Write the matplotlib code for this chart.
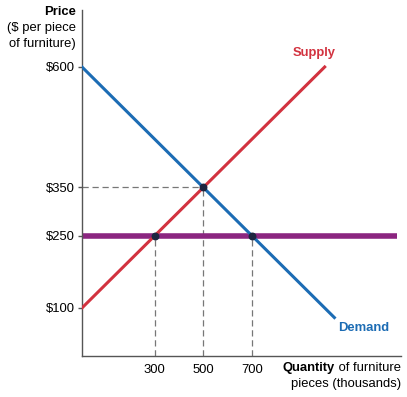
import numpy as np
import matplotlib.pyplot as plt

plt.rcParams['font.family'] = ['Liberation Sans', 'DejaVu Sans']

# supply and demand lines (quantity in thousands, price in $)
supply_q = [0, 1000]
supply_p = [100, 600]
demand_q = [0, 1040]
demand_p = [600, 80]
floor_price = 250
floor_q = [0, 1300]

# marked points
eq_q = [300, 500, 700]
eq_p = [250, 350, 250]

ytick_vals = [100, 250, 350, 600]
ytick_labels = ['$100', '$250', '$350', '$600']
xtick_vals = [300, 500, 700]
xtick_labels = ['300', '500', '700']

red = '#d2323f'
blue = '#1c6cb4'
purple = '#8b2580'
fs = 9.4

fig = plt.figure(figsize=(4.07, 3.97), dpi=100)
ax = fig.add_axes([0.2015, 0.103, 0.784, 0.8715])
ax.set_xlim(0, 1315)
ax.set_ylim(0, 718)

# dashed guides
ax.plot([0, 500], [350, 350], ls=(0, (5, 3)), color='#777777', lw=0.9, zorder=1)
for q, p in zip(eq_q, eq_p):
    ax.plot([q, q], [0, p], ls=(0, (5, 3)), color='#777777', lw=0.9, zorder=1)

ax.plot(floor_q, [floor_price, floor_price], color=purple, lw=4, solid_capstyle='butt', zorder=2)
ax.plot(supply_q, supply_p, color=red, lw=2.2, zorder=3)
ax.plot(demand_q, demand_p, color=blue, lw=2.2, zorder=3)
ax.scatter(eq_q, eq_p, s=22, color='#1d2540', zorder=4)

ax.text(955, 630, 'Supply', color=red, fontsize=fs, fontweight='bold', ha='center', va='center')
ax.text(1160, 58, 'Demand', color=blue, fontsize=fs, fontweight='bold', ha='center', va='center')

for s in ['top', 'right']:
    ax.spines[s].set_visible(False)
for s in ['left', 'bottom']:
    ax.spines[s].set_color('#555555')
    ax.spines[s].set_linewidth(1)

ax.set_yticks(ytick_vals)
ax.set_yticklabels(ytick_labels, fontsize=fs)
ax.set_xticks(xtick_vals)
ax.set_xticklabels(xtick_labels, fontsize=fs)
ax.tick_params(axis='y', length=3, width=1, color='#555555', pad=2)
ax.tick_params(axis='x', length=0, pad=6)

fig.text(76 / 407, 1 - 12 / 397, 'Price', fontsize=fs, fontweight='bold', ha='right', va='center')
fig.text(76 / 407, 1 - 28 / 397, '($ per piece', fontsize=fs, ha='right', va='center')
fig.text(76 / 407, 1 - 44 / 397, 'of furniture)', fontsize=fs, ha='right', va='center')

# x axis title: bold word followed by normal text
t = fig.text(401 / 407, 1 - 368 / 397, ' of furniture', fontsize=fs, ha='right', va='center')
r = fig.canvas.get_renderer()
bb = t.get_window_extent(renderer=r)
fig.text(bb.x0 / fig.bbox.width, 1 - 368 / 397, 'Quantity', fontsize=fs, fontweight='bold',
         ha='right', va='center')
fig.text(401 / 407, 1 - 384 / 397, 'pieces (thousands)', fontsize=fs, ha='right', va='center')

fig.savefig('out.png', dpi=100)
